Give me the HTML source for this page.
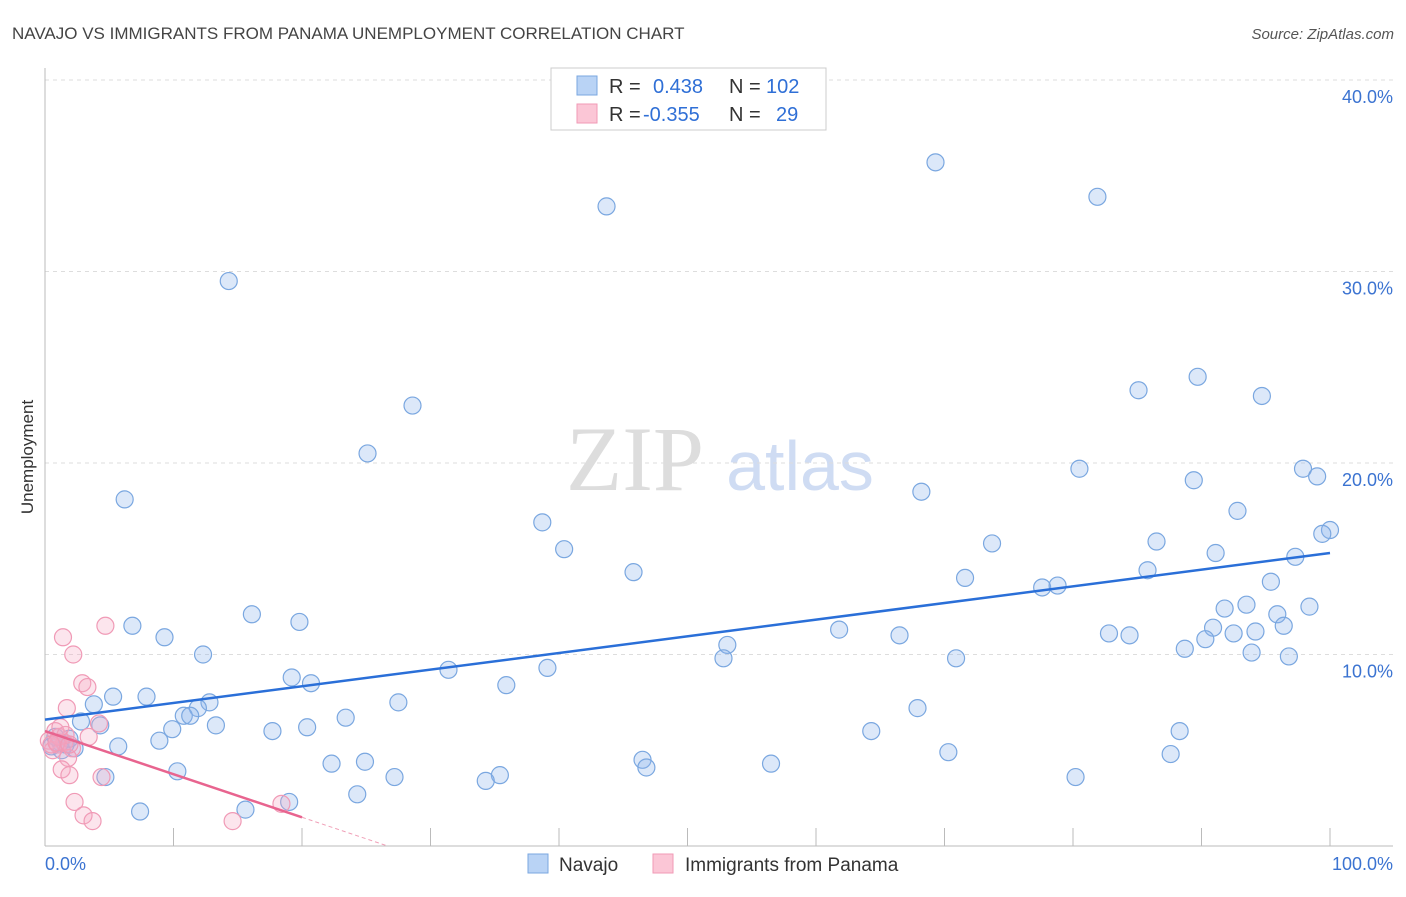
<!DOCTYPE html>
<html><head><meta charset="utf-8"><style>
body{margin:0;background:#fff;font-family:"Liberation Sans",sans-serif;}
svg text{font-family:"Liberation Sans",sans-serif;}
</style></head><body>
<svg id="chart" width="1406" height="892" xmlns="http://www.w3.org/2000/svg">
<text x="12" y="39" font-size="17" fill="#444">NAVAJO VS IMMIGRANTS FROM PANAMA UNEMPLOYMENT CORRELATION CHART</text>
<text x="1394" y="39" font-size="15" fill="#555" font-style="italic" text-anchor="end">Source: ZipAtlas.com</text>
<text x="33" y="457" font-size="17" fill="#333" transform="rotate(-90 33 457)" text-anchor="middle">Unemployment</text>
<g>
<text x="635" y="490" font-size="92" fill="#ddd" style="font-family:'Liberation Serif',serif" text-anchor="middle">ZIP</text>
<text x="800" y="490" font-size="70" fill="#cfdcf3" text-anchor="middle">atlas</text>
</g>
<g id="grid"></g><g id="axes"></g><g id="marks"></g>
<g>
<rect x="551" y="68" width="275" height="62" fill="#fff" stroke="#ccc"/>
<rect x="577" y="76" width="20" height="19" fill="#b9d3f5" stroke="#7aa7e0"/>
<rect x="577" y="104" width="20" height="19" fill="#fbc6d6" stroke="#f09ab6"/>
<text x="609" y="93" font-size="20" fill="#333">R =</text>
<text x="653" y="93" font-size="20" fill="#2f6fd6">0.438</text>
<text x="729" y="93" font-size="20" fill="#333">N =</text>
<text x="766" y="93" font-size="20" fill="#2f6fd6">102</text>
<text x="609" y="121" font-size="20" fill="#333">R =</text>
<text x="643" y="121" font-size="20" fill="#2f6fd6">-0.355</text>
<text x="729" y="121" font-size="20" fill="#333">N =</text>
<text x="776" y="121" font-size="20" fill="#2f6fd6">29</text>
</g>
<g>
<rect x="528" y="854" width="20" height="19" fill="#b9d3f5" stroke="#7aa7e0"/>
<text x="559" y="871" font-size="19" fill="#333">Navajo</text>
<rect x="653" y="854" width="20" height="19" fill="#fbc6d6" stroke="#f09ab6"/>
<text x="685" y="871" font-size="19" fill="#333">Immigrants from Panama</text>
</g>
</svg>
<script>
const navX=[14.3,43.7,69.3,81.9,28.6,25.1,6.2,80.5,89.4,68.2,85.1,89.7,94.7,97.9,99.0,100.0,99.4,92.8,38.7,40.4,73.7,86.5,91.1,97.3,45.8,71.6,85.8,95.4,77.6,78.8,93.5,91.8,95.9,98.4,16.1,19.8,6.8,9.3,61.8,66.5,82.8,84.4,90.9,92.5,94.2,96.4,53.1,12.3,88.7,90.3,93.9,96.8,52.8,70.9,39.1,31.4,19.2,20.7,35.9,5.3,7.9,12.8,27.5,3.8,11.9,10.8,11.3,23.4,67.9,2.8,4.3,13.3,9.9,17.7,20.4,8.9,64.3,88.3,5.7,1.2,0.5,1.3,2.3,70.3,87.6,46.5,22.3,24.9,46.8,56.5,10.3,35.4,34.3,27.2,80.2,4.7,24.3,19.0,15.6,7.4,1.6,0.8,1.9];
const navY=[29.5,33.4,35.7,33.9,23.0,20.5,18.1,19.7,19.1,18.5,23.8,24.5,23.5,19.7,19.3,16.5,16.3,17.5,16.9,15.5,15.8,15.9,15.3,15.1,14.3,14.0,14.4,13.8,13.5,13.6,12.6,12.4,12.1,12.5,12.1,11.7,11.5,10.9,11.3,11.0,11.1,11.0,11.4,11.1,11.2,11.5,10.5,10.0,10.3,10.8,10.1,9.9,9.8,9.8,9.3,9.2,8.8,8.5,8.4,7.8,7.8,7.5,7.5,7.4,7.2,6.8,6.8,6.7,7.2,6.5,6.3,6.3,6.1,6.0,6.2,5.5,6.0,6.0,5.2,5.4,5.2,5.0,5.1,4.9,4.8,4.5,4.3,4.4,4.1,4.3,3.9,3.7,3.4,3.6,3.6,3.6,2.7,2.3,1.9,1.8,5.3,5.7,5.6];
const panX=[1.4,4.7,2.2,2.9,3.3,1.7,4.2,3.4,0.8,0.3,1.0,0.6,1.5,2.1,1.8,1.3,1.9,4.4,2.3,3.0,3.7,14.6,18.4,1.1,0.5,1.6,1.2,0.9,1.9];
const panY=[10.9,11.5,10.0,8.5,8.3,7.2,6.4,5.7,6.0,5.5,5.3,5.0,5.4,5.1,4.6,4.0,3.7,3.6,2.3,1.6,1.3,1.3,2.2,5.7,5.3,5.8,6.2,5.4,5.3];
const navTrend=[6.6,15.3];
const panTrend=[6.0,1.5,20];
const yTicks=[10,20,30,40];
const yTickLabels=["10.0%","20.0%","30.0%","40.0%"];
const xTickLabels=["0.0%","100.0%"];

const NS="http://www.w3.org/2000/svg";
const X=v=>45+v*12.85, Y=v=>846-v*19.15;
function mk(tag,attrs,parent){const e=document.createElementNS(NS,tag);for(const k in attrs)e.setAttribute(k,attrs[k]);document.getElementById(parent).appendChild(e);return e;}
yTicks.forEach((t,i)=>{
  const l=mk('line',{x1:45,x2:1393,y1:Y(t),y2:Y(t),stroke:'#ddd','stroke-dasharray':'4,4'},'grid');
  
  
  const tx=mk('text',{x:1393,y:Y(t)+23,'font-size':18,fill:'#3b73d1','text-anchor':'end'},'axes');
  tx.textContent=yTickLabels[i];
  
  
});
const ax=mk('line',{x1:45,x2:45,y1:68,y2:846,stroke:'#bbb'},'axes');


const bx=mk('line',{x1:45,x2:1393,y1:846,y2:846,stroke:'#bbb'},'axes');


for(let i=0;i<=10;i++){
  const t=mk('line',{x1:X(i*10),x2:X(i*10),y1:828,y2:846,stroke:'#bbb'},'axes');
  
  
}
[[0,'start',45],[100,'end',1393]].forEach((d,i)=>{
  const t=mk('text',{x:d[2],y:870,'font-size':18,fill:'#3b73d1','text-anchor':d[1]},'axes');
  t.textContent=xTickLabels[i];
  
  
});
navX.forEach((x,i)=>{
  const c=mk('circle',{cx:X(x),cy:Y(navY[i]),r:8.5,fill:'rgba(140,180,235,0.3)',stroke:'#7aa7e0','stroke-width':1.2},'marks');
  
  
});
panX.forEach((x,i)=>{
  const c=mk('circle',{cx:X(x),cy:Y(panY[i]),r:8.5,fill:'rgba(245,170,195,0.3)',stroke:'#f09ab6','stroke-width':1.2},'marks');
  
  
});
const nl=mk('line',{x1:X(0),y1:Y(navTrend[0]),x2:X(100),y2:Y(navTrend[1]),stroke:'#2a6fd8','stroke-width':2.5},'marks');


const slope=(panTrend[1]-panTrend[0])/panTrend[2];
const pl=mk('line',{x1:X(0),y1:Y(panTrend[0]),x2:X(panTrend[2]),y2:Y(panTrend[1]),stroke:'#e8648f','stroke-width':2.5},'marks');


const zx=-panTrend[0]/slope;
const pd=mk('line',{x1:X(panTrend[2]),y1:Y(panTrend[1]),x2:X(zx),y2:Y(0),stroke:'#f0a0b8','stroke-width':1,'stroke-dasharray':'4,3'},'marks');


</script>
</body></html>
